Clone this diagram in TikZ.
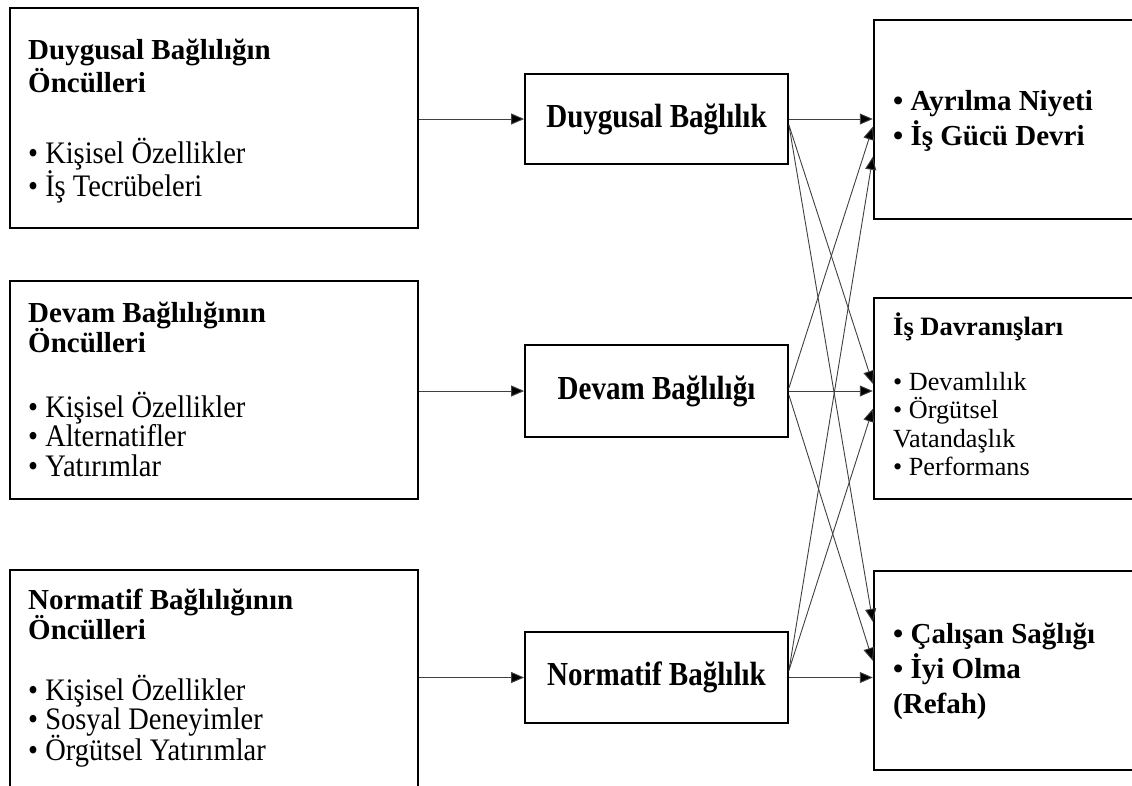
\documentclass[tikz,border=0pt]{standalone}
\usepackage{fontspec}
\setmainfont{Liberation Serif}
% narrowed faces for the commitment boxes and the antecedent lists
\newfontfamily\midface{Liberation Serif}[FakeStretch=0.865]
\newfontfamily\listface{Liberation Serif}[FakeStretch=0.91]
\usetikzlibrary{arrows.meta,calc}
\begin{document}
\begin{tikzpicture}[x=1pt,y=-1pt,
  outerbox/.style={draw=black,line width=2.4pt,inner sep=0pt},
  midbox/.style={draw=black,line width=1.8pt,inner sep=0pt,
    minimum width=263pt,font=\midface\fontsize{33.6}{36}\selectfont\bfseries},
  link/.style={draw=black!75,line width=0.9pt,
    -{Triangle[length=13pt,width=11pt,fill=black]}},
  txt/.style={anchor=base west,inner sep=0pt},
  ltitle/.style={txt,font=\fontsize{29}{33}\selectfont\bfseries},
  litem/.style={txt,font=\listface\fontsize{31.3}{33}\selectfont},
  rbold/.style={txt,font=\fontsize{29}{33}\selectfont\bfseries},
  rhead/.style={txt,font=\fontsize{26.5}{30}\selectfont\bfseries},
  ritem/.style={txt,font=\fontsize{26.2}{30}\selectfont}]
\clip (0,0) rectangle (1132,785);

% antecedent boxes (left column)
\node[outerbox,minimum width=408pt,minimum height=220pt] (L1) at (214,118) {};
\node[outerbox,minimum width=408pt,minimum height=218pt] (L2) at (214,390) {};
\node[outerbox,minimum width=408pt,minimum height=240pt] (L3) at (214,690) {};

% commitment boxes (middle column)
\node[midbox,minimum height=90pt] (M1) at (656.5,119) {Duygusal Bağlılık};
\node[midbox,minimum height=92pt] (M2) at (656.5,391) {Devam Bağlılığı};
\node[midbox,minimum height=91pt] (M3) at (656.5,677.5) {Normatif Bağlılık};

% outcome boxes (right column)
\node[outerbox,minimum width=276pt,minimum height=199pt] (R1) at (1012,119.5) {};
\node[outerbox,minimum width=276pt,minimum height=201pt] (R2) at (1012,398.5) {};
\node[outerbox,minimum width=276pt,minimum height=199pt] (R3) at (1012,670.5) {};

% left column texts
\node[ltitle] (l1a) at (28,59) {Duygusal Bağlılığın};
\node[ltitle] (l1b) at (28,92) {Öncülleri};
\node[litem] (l1c) at (28,163) {• Kişisel Özellikler};
\node[litem] (l1d) at (28,196) {• İş Tecrübeleri};

\node[ltitle] (l2a) at (28,322) {Devam Bağlılığının};
\node[ltitle] (l2b) at (28,352) {Öncülleri};
\node[litem] (l2c) at (28,417) {• Kişisel Özellikler};
\node[litem] (l2d) at (28,446.5) {• Alternatifler};
\node[litem] (l2e) at (28,476) {• Yatırımlar};

\node[ltitle] (l3a) at (28,609) {Normatif Bağlılığının};
\node[ltitle] (l3b) at (28,639) {Öncülleri};
\node[litem] (l3c) at (28,700) {• Kişisel Özellikler};
\node[litem] (l3d) at (28,729) {• Sosyal Deneyimler};
\node[litem] (l3e) at (28,760) {• Örgütsel Yatırımlar};

% right column texts
\node[rbold] (r1a) at (893,110) {• Ayrılma Niyeti};
\node[rbold] (r1b) at (893,145) {• İş Gücü Devri};

\node[rhead] (r2a) at (893,335) {İş Davranışları};
\node[ritem] (r2b) at (893,390) {• Devamlılık};
\node[ritem] (r2c) at (893,418) {• Örgütsel};
\node[ritem] (r2d) at (893,447) {Vatandaşlık};
\node[ritem] (r2e) at (893,475) {• Performans};

\node[rbold] (r3a) at (893,643) {• Çalışan Sağlığı};
\node[rbold] (r3b) at (893,678) {• İyi Olma};
\node[rbold] (r3c) at (893,713) {(Refah)};

% antecedents -> commitment forms
\draw[link] (M1.west -| L1.east) -- (M1.west);
\draw[link] (M2.west -| L2.east) -- (M2.west);
\draw[link] (M3.west -| L3.east) -- (M3.west);

% commitment forms -> outcomes
\draw[link] (M1.east) -- (M1.east -| R1.west);
\draw[link] ($(M1.east)+(0,6)$) -- ($(R2.north west)+(0,87)$);
\draw[link] ($(M1.east)+(0,6)$) -- ($(R3.north west)+(0,52)$);

\draw[link] ($(M2.east)+(0,-3)$) -- ($(R1.north west)+(0,108)$);
\draw[link] (M2.east) -- (M2.east -| R2.west);
\draw[link] ($(M2.east)+(0,4)$) -- ($(R3.north west)+(0,91)$);

\draw[link] ($(M3.east)+(0,-7)$) -- ($(R1.north west)+(0,138)$);
\draw[link] ($(M3.east)+(0,-7)$) -- ($(R2.north west)+(0,112)$);
\draw[link] (M3.east) -- (M3.east -| R3.west);
\end{tikzpicture}
\end{document}
